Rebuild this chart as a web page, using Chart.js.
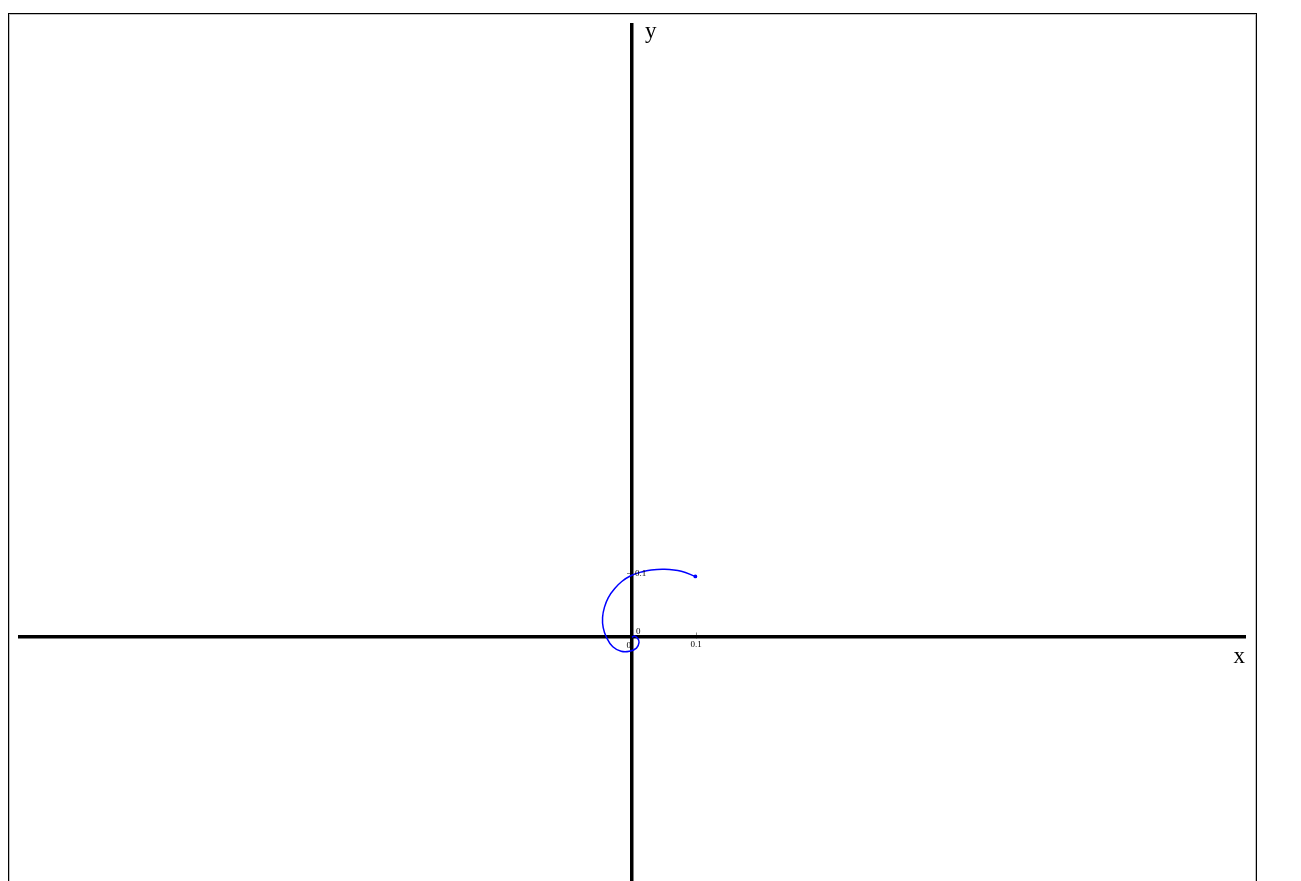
<!DOCTYPE html>
<html>
<head>
<meta charset="utf-8">
<title>spiral</title>
<script src="https://cdn.jsdelivr.net/npm/chart.js@4/dist/chart.umd.min.js"></script>
<style>
  html, body { margin: 0; padding: 0; background: #fff; overflow: hidden; }
  #frame {
    position: absolute; left: 8px; top: 13px;
    width: 1247px; height: 900px;
    border: 1px solid #000;
    box-shadow: inset 0 0 0 1px #c0c0c0;
  }
  #myChart { position: absolute; left: 0; top: 0; }
</style>
</head>
<body>
<div id="frame"></div>
<canvas id="myChart" width="1301" height="884"></canvas>
<script>
// curve points, from the centre outwards
const xValues = [0, 0.004, 0.009, 0.011, 0.007, -0.004, -0.017, -0.030, -0.040, -0.045,
  -0.046, -0.043, -0.037, -0.027, -0.016, -0.002, 0.015, 0.030, 0.051, 0.077, 0.099];
const yValues = [0, 0.002, -0.002, -0.008, -0.017, -0.022, -0.022, -0.015, 0, 0.015,
  0.031, 0.047, 0.062, 0.076, 0.087, 0.096, 0.102, 0.105, 0.106, 0.103, 0.095];

// tick labels shown on each axis
const xTickValues = [0, 0.1];
const yTickValues = [0, 0.1];

// axis names
const xAxisName = 'x';
const yAxisName = 'y';

const points = xValues.map((x, i) => ({x: x, y: yValues[i]}));

//draws the small tick labels and the axis names next to the axes
const axisText = {
  id: 'axisText',
  afterDraw(chart) {
    const ctx = chart.ctx;
    const xs = chart.scales.x;
    const ys = chart.scales.y;
    const x0 = xs.getPixelForValue(0);
    const y0 = ys.getPixelForValue(0);
    ctx.save();
    ctx.fillStyle = '#000';
    ctx.font = '9px "Liberation Serif", serif';

    xTickValues.forEach((v) => {
      ctx.textBaseline = 'top';
      if (v === 0) {
        ctx.textAlign = 'right';
        ctx.fillText('0', x0 - 1, y0 + 4);
      } else {
        ctx.textAlign = 'center';
        ctx.fillText(String(v), xs.getPixelForValue(v), y0 + 3);
      }
    });
    yTickValues.forEach((v) => {
      ctx.textAlign = 'left';
      if (v === 0) {
        ctx.textBaseline = 'bottom';
        ctx.fillText('0', x0 + 4, y0 - 1);
      } else {
        ctx.textBaseline = 'middle';
        ctx.fillText(String(v), x0 + 3, ys.getPixelForValue(v));
      }
    });

    ctx.font = '23px "Liberation Serif", serif';
    ctx.textBaseline = 'alphabetic';
    ctx.textAlign = 'right';
    ctx.fillText(xAxisName, chart.chartArea.right, y0 + 26);
    ctx.textAlign = 'left';
    ctx.fillText(yAxisName, x0 + 13, chart.chartArea.top + 13);
    ctx.restore();
  }
};

const config = {
  type: 'scatter',
  data: {
    datasets: [{
      data: points,
      showLine: true,
      fill: false,
      borderColor: '#0000ff',
      backgroundColor: '#0000ff',
      borderWidth: 1.5,
      tension: 0.4,
      pointRadius: (c) => c.dataIndex === points.length - 1 ? 1.2 : 0,
      pointHoverRadius: 0
    }]
  },
  options: {
    responsive: false,
    animation: false,
    events: [],
    layout: { padding: { left: 20, right: 56, top: 25, bottom: 0 } },
    plugins: { legend: { display: false }, tooltip: { enabled: false } },
    scales: {
      x: {
        type: 'linear',
        position: { y: 0 },
        min: -0.95625,
        max: 0.95781,
        afterBuildTicks: (scale) => { scale.ticks = xTickValues.map((v) => ({value: v})); },
        ticks: { display: false },
        grid: { display: true, drawOnChartArea: false, drawTicks: true, tickLength: -6, color: '#888', lineWidth: 1 },
        border: { display: true, color: '#000', width: 3.5 }
      },
      y: {
        type: 'linear',
        position: { x: 0 },
        min: -0.38125,
        max: 0.95625,
        afterBuildTicks: (scale) => { scale.ticks = yTickValues.map((v) => ({value: v})); },
        ticks: { display: false },
        grid: { display: true, drawOnChartArea: false, drawTicks: true, tickLength: 3, color: '#888', lineWidth: 1 },
        border: { display: true, color: '#000', width: 3.5 }
      }
    }
  },
  plugins: [axisText]
};

const myChart = new Chart(document.getElementById('myChart'), config);
</script>
</body>
</html>
